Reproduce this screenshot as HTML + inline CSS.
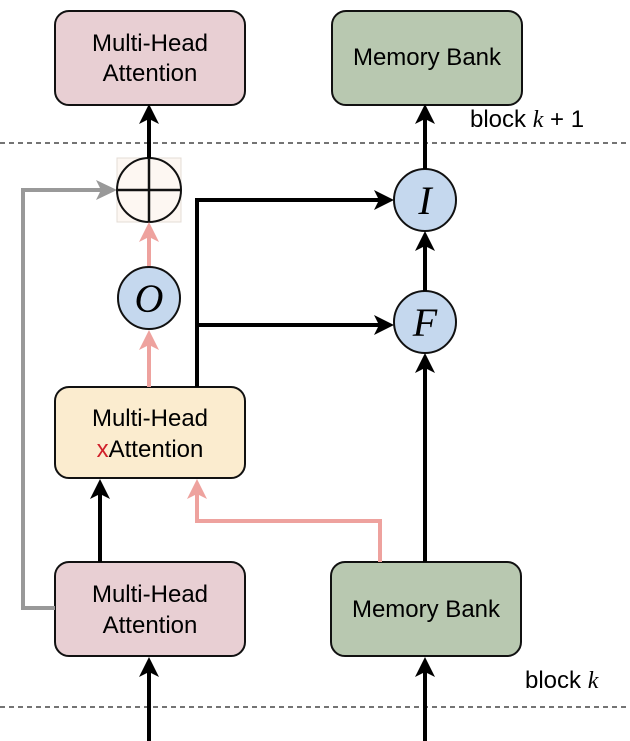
<!DOCTYPE html>
<html><head><style>
html,body{margin:0;padding:0;background:#fff;}
svg{display:block;}
text{font-family:"Liberation Sans",sans-serif;}
.m{font-family:"Liberation Serif",serif;font-style:italic;}
</style></head><body>
<svg width="630" height="741" viewBox="0 0 630 741" xmlns="http://www.w3.org/2000/svg">
<line x1="0" y1="143" x2="630" y2="143" stroke="#222" stroke-width="1.3" stroke-dasharray="5,4"/>
<line x1="0" y1="707" x2="630" y2="707" stroke="#222" stroke-width="1.3" stroke-dasharray="5,4"/>
<text x="470" y="127" font-size="24">block <tspan class="m">k</tspan> + 1</text>
<text x="525" y="688" font-size="24">block <tspan class="m">k</tspan></text>

<rect x="55" y="11" width="190" height="94" rx="14" fill="#e8cfd3" stroke="#111" stroke-width="2"/>
<text x="150" y="51" font-size="24" text-anchor="middle">Multi-Head</text>
<text x="150" y="81" font-size="24" text-anchor="middle">Attention</text>
<rect x="332" y="11" width="190" height="94" rx="14" fill="#b8c8b0" stroke="#111" stroke-width="2"/>
<text x="427" y="65" font-size="24" text-anchor="middle">Memory Bank</text>

<rect x="55" y="387" width="190" height="91" rx="14" fill="#fbeccf" stroke="#111" stroke-width="2"/>
<text x="150" y="426" font-size="24" text-anchor="middle">Multi-Head</text>
<text x="150" y="457" font-size="24" text-anchor="middle"><tspan fill="#d0202a">x</tspan>Attention</text>

<rect x="55" y="562" width="190" height="94" rx="14" fill="#e8cfd3" stroke="#111" stroke-width="2"/>
<text x="150" y="602" font-size="24" text-anchor="middle">Multi-Head</text>
<text x="150" y="633" font-size="24" text-anchor="middle">Attention</text>
<rect x="331" y="562" width="190" height="94" rx="14" fill="#b8c8b0" stroke="#111" stroke-width="2"/>
<text x="426" y="617" font-size="24" text-anchor="middle">Memory Bank</text>

<polyline points="55,608 23,608 23,190 108,190" fill="none" stroke="#999" stroke-width="4"/>
<path d="M96,180 L117,190 L96,200 L101,190 Z" fill="#999"/>

<rect x="117" y="158" width="64" height="64" fill="#fdf7f2" stroke="#e4dcd6" stroke-width="1"/>
<circle cx="149" cy="190" r="32" fill="#fdf7f2" stroke="#111" stroke-width="2"/>
<line x1="117" y1="190" x2="181" y2="190" stroke="#111" stroke-width="2.5"/>
<line x1="149" y1="158" x2="149" y2="222" stroke="#111" stroke-width="2.5"/>
<line x1="149" y1="158" x2="149" y2="115" stroke="#000" stroke-width="4"/>
<path d="M139,124 L149,104 L159,124 L149,119 Z" fill="#000"/>

<line x1="149" y1="267" x2="149" y2="232" stroke="#eea29e" stroke-width="4"/>
<path d="M139,242 L149,222 L159,242 L149,237 Z" fill="#eea29e"/>
<line x1="149" y1="387" x2="149" y2="340" stroke="#eea29e" stroke-width="4"/>
<path d="M139,350 L149,330 L159,350 L149,345 Z" fill="#eea29e"/>
<polyline points="380,562 380,521 197,521 197,490" fill="none" stroke="#eea29e" stroke-width="4"/>
<path d="M187,499 L197,479 L207,499 L197,494 Z" fill="#eea29e"/>

<circle cx="149" cy="298" r="31" fill="#c5d8ee" stroke="#111" stroke-width="2"/>
<text x="149" y="312" font-size="40" text-anchor="middle" class="m">O</text>

<polyline points="197,387 197,200 384,200" fill="none" stroke="#000" stroke-width="4"/>
<path d="M374,190 L394,200 L374,210 L379,200 Z" fill="#000"/>
<line x1="197" y1="325" x2="384" y2="325" stroke="#000" stroke-width="4"/>
<path d="M374,315 L394,325 L374,335 L379,325 Z" fill="#000"/>

<circle cx="425" cy="200" r="31" fill="#c5d8ee" stroke="#111" stroke-width="2"/>
<text x="425" y="214" font-size="40" text-anchor="middle" class="m">I</text>
<circle cx="425" cy="322" r="31" fill="#c5d8ee" stroke="#111" stroke-width="2"/>
<text x="425" y="336" font-size="40" text-anchor="middle" class="m">F</text>

<line x1="425" y1="169" x2="425" y2="115" stroke="#000" stroke-width="4"/>
<path d="M415,124 L425,104 L435,124 L425,119 Z" fill="#000"/>
<line x1="425" y1="291" x2="425" y2="241" stroke="#000" stroke-width="4"/>
<path d="M415,251 L425,231 L435,251 L425,246 Z" fill="#000"/>
<line x1="425" y1="562" x2="425" y2="363" stroke="#000" stroke-width="4"/>
<path d="M415,373 L425,353 L435,373 L425,368 Z" fill="#000"/>

<line x1="100" y1="562" x2="100" y2="490" stroke="#000" stroke-width="4"/>
<path d="M90,499 L100,479 L110,499 L100,494 Z" fill="#000"/>

<line x1="149" y1="741" x2="149" y2="668" stroke="#000" stroke-width="4"/>
<path d="M139,677 L149,657 L159,677 L149,672 Z" fill="#000"/>
<line x1="425" y1="741" x2="425" y2="668" stroke="#000" stroke-width="4"/>
<path d="M415,677 L425,657 L435,677 L425,672 Z" fill="#000"/>
</svg>
</body></html>
